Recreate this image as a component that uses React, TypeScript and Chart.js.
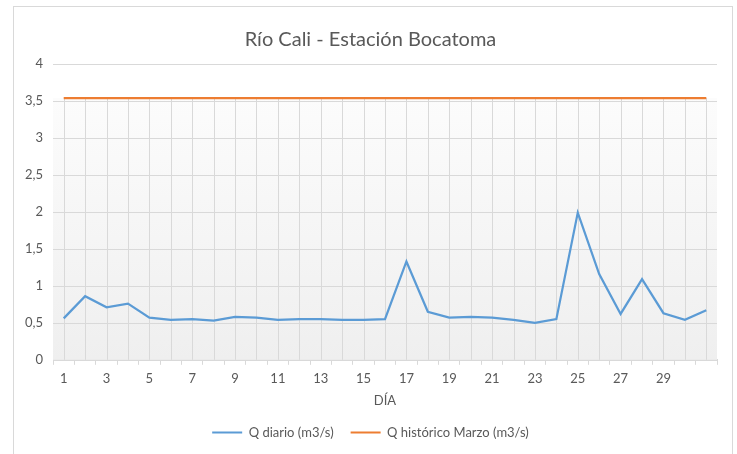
import React, { useEffect, useRef } from 'react';
import { Chart, registerables } from 'chart.js';

Chart.register(...registerables);

const TITLE = 'Río Cali - Estación Bocatoma';
const X_TITLE = 'DÍA';
const dias = ['1','2','3','4','5','6','7','8','9','10','11','12','13','14','15','16','17','18','19','20','21','22','23','24','25','26','27','28','29','30','31'];
const qDiario = [0.56, 0.86, 0.71, 0.76, 0.57, 0.54, 0.55, 0.53, 0.58, 0.57, 0.54, 0.55, 0.55, 0.54, 0.54, 0.55, 1.33, 0.65, 0.57, 0.58, 0.57, 0.54, 0.50, 0.55, 1.99, 1.16, 0.62, 1.09, 0.63, 0.54, 0.67];
const qHistorico = [3.54, 3.54, 3.54, 3.54, 3.54, 3.54, 3.54, 3.54, 3.54, 3.54, 3.54, 3.54, 3.54, 3.54, 3.54, 3.54, 3.54, 3.54, 3.54, 3.54, 3.54, 3.54, 3.54, 3.54, 3.54, 3.54, 3.54, 3.54, 3.54, 3.54, 3.54];
const seriesNames = ['Q diario (m3/s)', 'Q histórico Marzo (m3/s)'];

const FONT = 'Lato, "Open Sans", sans-serif';
const TEXT = '#595959';
const GRID = '#d9d9d9';

const backgroundPlugin = {
  id: 'bgGradient',
  beforeDatasetsDraw(chart: any) {
    const { ctx, chartArea, scales } = chart;
    const yTop = scales.y.getPixelForValue(qHistorico[0]);
    const g = ctx.createLinearGradient(0, yTop, 0, chartArea.bottom);
    g.addColorStop(0, '#fcfcfc');
    g.addColorStop(1, '#efefef');
    ctx.save();
    ctx.fillStyle = g;
    ctx.fillRect(chartArea.left, yTop, chartArea.right - chartArea.left, chartArea.bottom - yTop);
    ctx.strokeStyle = GRID;
    ctx.lineWidth = 1;
    scales.y.ticks.forEach((t: any) => {
      const y = Math.round(scales.y.getPixelForValue(t.value)) + 0.5;
      ctx.beginPath();
      ctx.moveTo(chartArea.left, y);
      ctx.lineTo(chartArea.right, y);
      ctx.stroke();
    });
    const meta = chart.getDatasetMeta(1);
    meta.data.forEach((pt: any) => {
      const x = Math.round(pt.x) + 0.5;
      ctx.beginPath();
      ctx.moveTo(x, pt.y);
      ctx.lineTo(x, chartArea.bottom);
      ctx.stroke();
    });
    ctx.restore();
  },
};

export default function App() {
  const ref = useRef<HTMLCanvasElement | null>(null);

  useEffect(() => {
    if (!ref.current) return;
    const chart = new Chart(ref.current, {
      type: 'line',
      data: {
        labels: dias,
        datasets: [
          {
            label: seriesNames[0],
            data: qDiario,
            borderColor: '#5b9bd5',
            backgroundColor: '#5b9bd5',
            borderWidth: 2.25,
            pointRadius: 0,
            tension: 0,
          },
          {
            label: seriesNames[1],
            data: qHistorico,
            borderColor: '#ed7d31',
            backgroundColor: '#ed7d31',
            borderWidth: 2.25,
            pointRadius: 0,
            tension: 0,
          },
        ],
      },
      options: {
        animation: false,
        responsive: false,
        maintainAspectRatio: false,
        layout: { padding: { left: 24, right: 20, top: 0, bottom: 5 } },
        plugins: {
          title: {
            display: true,
            text: TITLE,
            color: TEXT,
            font: { family: FONT, size: 20, weight: 'normal' },
            padding: { top: 28, bottom: 12 },
          },
          legend: {
            position: 'bottom',
            labels: {
              color: TEXT,
              font: { family: FONT, size: 13 },
              boxWidth: 30,
              boxHeight: 2,
              padding: 17,
              generateLabels(chart: any) {
                return chart.data.datasets.map((ds: any, i: number) => ({
                  text: ds.label,
                  fillStyle: ds.borderColor,
                  strokeStyle: ds.borderColor,
                  lineWidth: 0,
                  fontColor: TEXT,
                  hidden: false,
                  datasetIndex: i,
                }));
              },
            },
          },
          tooltip: { enabled: false },
        },
        scales: {
          x: {
            offset: true,
            grid: {
              offset: true,
              drawOnChartArea: false,
              drawTicks: true,
              tickLength: 5,
              color: GRID,
            },
            border: { display: true, color: GRID },
            ticks: {
              autoSkip: false,
              maxRotation: 0,
              color: TEXT,
              font: { family: FONT, size: 13 },
              padding: 6,
              callback(_v: any, i: number) {
                return i % 2 === 0 && i < 30 ? dias[i] : '';
              },
            },
            title: {
              display: true,
              text: X_TITLE,
              color: TEXT,
              font: { family: FONT, size: 13 },
              padding: { top: 1, bottom: 0 },
            },
          },
          y: {
            min: 0,
            max: 4,
            afterFit(scale: any) {
              scale.width = 29;
            },
            grid: { display: false, drawTicks: false },
            border: { display: false },
            ticks: {
              stepSize: 0.5,
              color: TEXT,
              font: { family: FONT, size: 13 },
              padding: 10,
              callback(v: any) {
                return String(v).replace('.', ',');
              },
            },
          },
        },
      },
      plugins: [backgroundPlugin],
    });
    return () => chart.destroy();
  }, []);

  return (
    <div style={{ position: 'fixed', left: 0, top: 0, width: 737, height: 454, overflow: 'hidden', background: '#fff' }}>
      <div
        style={{
          position: 'absolute',
          left: 13,
          top: 6,
          width: 720,
          height: 470,
          border: '1px solid #d9d9d9',
          boxSizing: 'border-box',
        }}
      />
      <canvas ref={ref} width={737} height={454} style={{ position: 'absolute', left: 0, top: 0, width: 737, height: 454 }} />
    </div>
  );
}
